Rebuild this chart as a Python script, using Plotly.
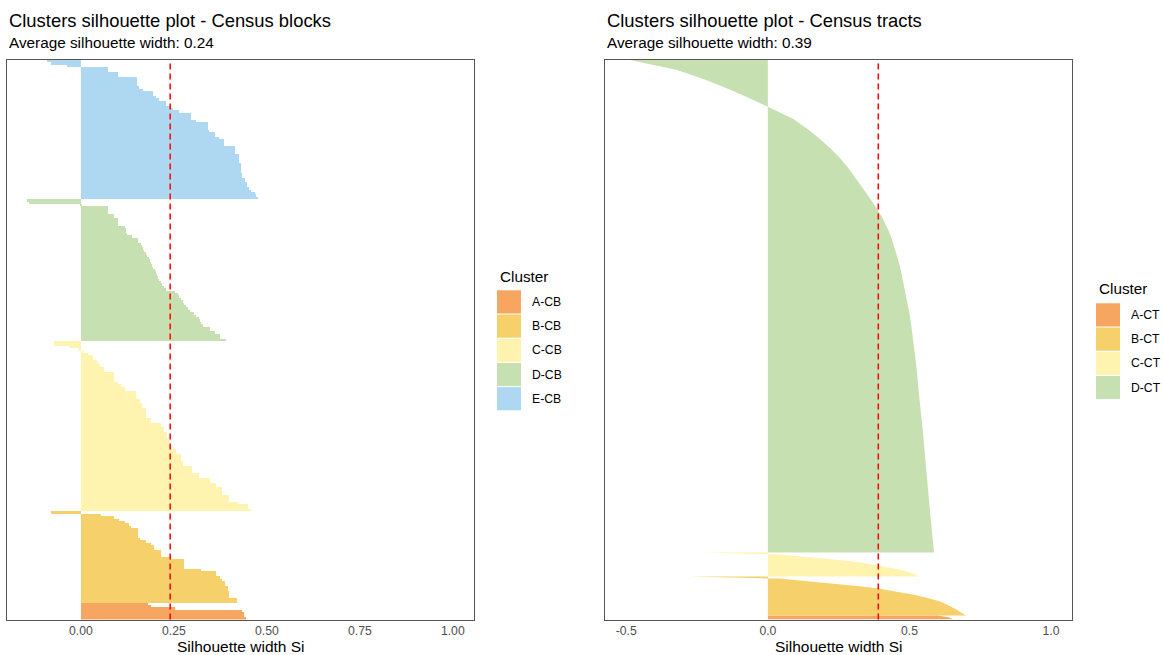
import plotly.graph_objects as go

W, H = 1164, 655

# ---------------- Census blocks (left panel) ----------------
clusters_cb = ["A-CB", "B-CB", "C-CB", "D-CB", "E-CB"]
# silhouette widths per observation, ordered as drawn from bottom to top
sil_A_CB = [0.445, 0.44, 0.44, 0.435, 0.255, 0.19, 0.18]
sil_B_CB = [0.42, 0.42, 0.399, 0.399, 0.399, 0.395, 0.395, 0.387, 0.387, 0.381,
            0.374, 0.365, 0.365, 0.325, 0.278, 0.278, 0.278, 0.278, 0.239, 0.217,
            0.217, 0.217, 0.196, 0.196, 0.188, 0.177, 0.159, 0.154, 0.154, 0.154,
            0.154, 0.136, 0.13, 0.118, 0.103, 0.091, 0.056, -0.08]
sil_C_CB = [0.457, 0.45, 0.45, 0.423, 0.399, 0.399, 0.399, 0.381, 0.381, 0.381,
            0.365, 0.365, 0.349, 0.349, 0.318, 0.318, 0.30, 0.30, 0.30, 0.274,
            0.274, 0.269, 0.269, 0.269, 0.257, 0.257, 0.244, 0.244, 0.238, 0.238,
            0.231, 0.231, 0.231, 0.224, 0.224, 0.215, 0.215, 0.188, 0.188, 0.177,
            0.177, 0.177, 0.177, 0.166, 0.166, 0.159, 0.159, 0.15, 0.15, 0.15,
            0.118, 0.118, 0.109, 0.1, 0.091, 0.091, 0.091, 0.091, 0.063, 0.063,
            0.053, 0.05, 0.044, 0.033, 0.033, 0.02, 0.006, -0.005, -0.03, -0.072,
            -0.072]
sil_D_CB = [0.392, 0.374, 0.374, 0.36, 0.347, 0.347, 0.33, 0.325, 0.322, 0.318,
            0.311, 0.305, 0.293, 0.29, 0.283, 0.278, 0.274, 0.27, 0.265, 0.262,
            0.253, 0.229, 0.224, 0.22, 0.215, 0.212, 0.208, 0.206, 0.203, 0.2,
            0.195, 0.193, 0.19, 0.187, 0.183, 0.178, 0.175, 0.17, 0.168, 0.166,
            0.163, 0.153, 0.153, 0.139, 0.125, 0.123, 0.122, 0.12, 0.1, 0.1,
            0.1, 0.09, 0.09, 0.074, 0.074, 0.074, 0.005, -0.14, -0.144]
sil_E_CB = [0.477, 0.472, 0.468, 0.459, 0.452, 0.447, 0.447, 0.441, 0.441, 0.435,
            0.435, 0.43, 0.43, 0.43, 0.43, 0.425, 0.425, 0.425, 0.425, 0.414,
            0.414, 0.414, 0.385, 0.385, 0.385, 0.373, 0.36, 0.36, 0.346, 0.342,
            0.342, 0.342, 0.311, 0.297, 0.297, 0.297, 0.264, 0.248, 0.239, 0.23,
            0.23, 0.212, 0.203, 0.194, 0.194, 0.167, 0.158, 0.152, 0.152, 0.152,
            0.152, 0.1, 0.1, 0.073, 0.073, -0.038, -0.079, -0.09]
avg_cb = 0.24
ticks_cb = [0.0, 0.25, 0.5, 0.75, 1.0]
ticktext_cb = ["0.00", "0.25", "0.50", "0.75", "1.00"]

# ---------------- Census tracts (right panel) ----------------
clusters_ct = ["A-CT", "B-CT", "C-CT", "D-CT"]
size_ct = [4, 39, 24, 493]  # cluster sizes (relative number of observations)
# silhouette widths read along each cluster, from its bottom to its top
sil_A_CT = [0.655, 0.64, 0.60]
sil_B_CT = [0.70, 0.69, 0.676, 0.665, 0.652, 0.638, 0.622, 0.605, 0.58, 0.55,
            0.52, 0.48, 0.44, 0.395, 0.34, 0.27, 0.20, 0.13, 0.04, -0.28]
sil_C_CT = [0.533, 0.522, 0.502, 0.48, 0.447, 0.41, 0.378, 0.33, 0.27, 0.20,
            0.12, 0.04, -0.23]
sil_D_CT = [0.587, 0.583, 0.580, 0.577, 0.573, 0.570, 0.567, 0.565, 0.562, 0.559,
            0.555, 0.552, 0.548, 0.545, 0.541, 0.538, 0.534, 0.530, 0.527, 0.524,
            0.520, 0.516, 0.512, 0.507, 0.502, 0.495, 0.488, 0.481, 0.474, 0.467,
            0.457, 0.446, 0.436, 0.421, 0.404, 0.383, 0.36, 0.335, 0.31, 0.285,
            0.256, 0.222, 0.183, 0.140, 0.090, 0.018, -0.055, -0.135, -0.220, -0.323,
            -0.487]
avg_ct = 0.39
ticks_ct = [-0.5, 0.0, 0.5, 1.0]
ticktext_ct = ["-0.5", "0.0", "0.5", "1.0"]

colors = ["#F6A660", "#F6D06A", "#FFF3B0", "#C7E0B2", "#AED8F2"]

FONT = "Liberation Sans, Arial, sans-serif"
fig = go.Figure()

# ---- left: bars
cb_lists = [sil_A_CB, sil_B_CB, sil_C_CB, sil_D_CB, sil_E_CB]
pos = 0
for name, vals, col in zip(clusters_cb, cb_lists, colors):
    ys = list(range(pos, pos + len(vals)))
    pos += len(vals)
    fig.add_trace(go.Bar(x=vals, y=ys, orientation="h", width=1.0, name=name,
                         marker=dict(color=col, line=dict(width=0)),
                         xaxis="x", yaxis="y", showlegend=False))
N_cb = pos

# ---- right: filled silhouettes
ct_lists = [sil_A_CT, sil_B_CT, sil_C_CT, sil_D_CT]
off = 0.0
for name, vals, n, col in zip(clusters_ct, ct_lists, size_ct, colors):
    m = len(vals)
    ys = [off + i * n / (m - 1) for i in range(m)]
    off += n
    fig.add_trace(go.Scatter(x=vals, y=ys, mode="lines", fill="tozerox", name=name,
                             line=dict(width=0, color=col), fillcolor=col,
                             xaxis="x2", yaxis="y2", showlegend=False, hoverinfo="x"))
N_ct = off

# ---- layout helpers (pixel -> paper)
def px(x):
    return x / W

def py(y):
    return 1 - y / H

ydom = [py(619.5), py(60)]
axis_common = dict(showgrid=False, zeroline=False, showline=True, mirror=True,
                   linecolor="#555555", linewidth=1, ticks="",
                   tickfont=dict(family=FONT, size=12.2, color="#4D4D4D"))

fig.update_layout(
    width=W, height=H, margin=dict(l=0, r=0, t=0, b=0),
    paper_bgcolor="white", plot_bgcolor="white",
    barmode="overlay", bargap=0, showlegend=False,
    font=dict(family=FONT),
    xaxis=dict(domain=[px(7.3), px(474)], range=[-0.198, 1.057], anchor="y",
               tickvals=ticks_cb, ticktext=ticktext_cb, **axis_common),
    yaxis=dict(domain=ydom, range=[-0.5, N_cb - 0.5], anchor="x",
               showticklabels=False, **axis_common),
    xaxis2=dict(domain=[px(605), px(1072.3)], range=[-0.575, 1.075], anchor="y2",
                tickvals=ticks_ct, ticktext=ticktext_ct, **axis_common),
    yaxis2=dict(domain=ydom, range=[0, N_ct], anchor="x2",
                showticklabels=False, **axis_common),
)

# average lines
for ax, avg in (("x", avg_cb), ("x2", avg_ct)):
    yax = "y" if ax == "x" else "y2"
    fig.add_shape(type="line", xref=ax, yref=yax + " domain", x0=avg, x1=avg, y0=0, y1=1,
                  line=dict(color="#FF0000", width=1.5, dash="6px,4px"), layer="above")

ann = []
def text(x, y, s, size, color="black", xanchor="left"):
    ann.append(dict(x=px(x), y=py(y), xref="paper", yref="paper", text=s, showarrow=False,
                    xanchor=xanchor, yanchor="middle",
                    font=dict(family=FONT, size=size, color=color)))

# titles
text(7.3, 20.5, "Clusters silhouette plot - Census blocks", 18.4)
text(7.3, 43, "Average silhouette width: %.2f" % avg_cb, 15.3)
text(605, 20.5, "Clusters silhouette plot - Census tracts", 18.4)
text(605, 43, "Average silhouette width: %.2f" % avg_ct, 15.3)
# axis titles
text((7.3 + 474) / 2, 646, "Silhouette width Si", 15.5, xanchor="center")
text((605 + 1072.3) / 2, 646, "Silhouette width Si", 15.5, xanchor="center")

# legends (manual, ggplot-like keys)
def legend(x0, ytitle, ystart, names):
    text(x0 + 1, ytitle, "Cluster", 15.3)
    pitch = 24.2
    for i, (nm, col) in enumerate(zip(names, colors)):
        top = ystart + i * pitch
        fig.add_shape(type="rect", xref="paper", yref="paper",
                      x0=px(x0), x1=px(x0 + 24), y0=py(top + 23.2), y1=py(top),
                      fillcolor=col, line=dict(width=0))
        text(x0 + 33, top + 11.6, nm, 12.2)

legend(497, 276.5, 290.3, clusters_cb)
legend(1096, 288.5, 303.3, clusters_ct)

fig.update_layout(annotations=ann)
fig.write_html("out.html", config={"displayModeBar": False},
               post_script="document.body.style.margin='0';document.body.style.overflow='hidden';")
